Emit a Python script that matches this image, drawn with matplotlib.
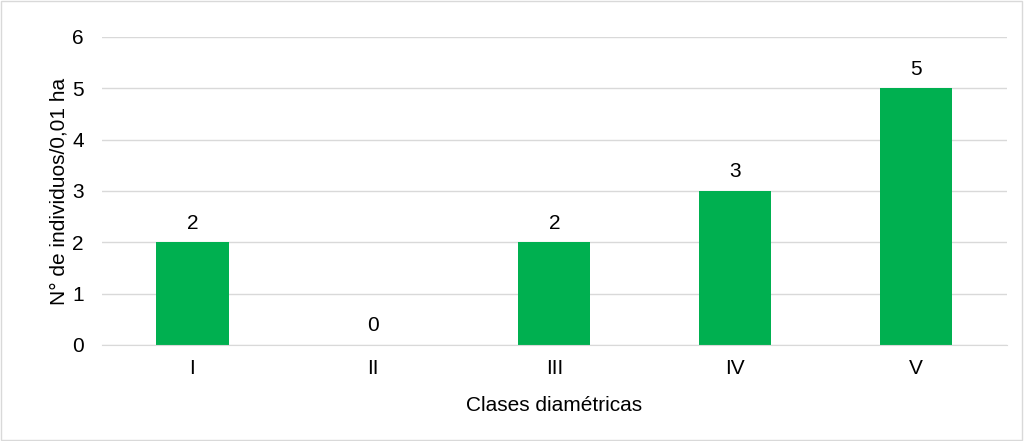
import matplotlib.pyplot as plt
from matplotlib.patches import Rectangle

# Datos
clases = ['I', 'II', 'III', 'IV', 'V']
individuos = [2, 0, 2, 3, 5]

plt.rcParams['font.family'] = ['Liberation Sans', 'DejaVu Sans']
fs = 15

fig = plt.figure(figsize=(10.24, 4.41), dpi=100)
ax = fig.add_axes([0.0996, 0.2177, 0.8834, 0.6984])

x = range(len(clases))
bars = ax.bar(x, individuos, width=0.4, color='#00B050', zorder=3)

for xi, v in zip(x, individuos):
    ax.annotate(str(v), (xi, v), xytext=(0, 7), textcoords='offset points',
                ha='center', va='bottom', fontsize=fs, color='#000000')

ax.set_xlim(-0.5, len(clases) - 0.5)
ax.set_ylim(0, 6)
ax.set_yticks(range(0, 7))
ax.set_xticks(list(x))
ax.set_xticklabels(clases)
ax.tick_params(axis='both', length=0, labelsize=fs, colors='#000000')
ax.tick_params(axis='y', pad=13)
ax.tick_params(axis='x', pad=10)

ax.grid(axis='y', color='#D9D9D9', linewidth=1, zorder=0)
for s in ['top', 'right', 'left']:
    ax.spines[s].set_visible(False)
ax.spines['bottom'].set_color('#D9D9D9')
ax.spines['bottom'].set_zorder(4)

ax.set_xlabel('Clases diamétricas', fontsize=fs, labelpad=13)
ax.set_ylabel('N° de individuos/0,01 ha', fontsize=fs, labelpad=3)

# borde del gráfico
fig.patches.append(Rectangle((0.001, 0.002), 0.997, 0.995, transform=fig.transFigure,
                             fill=False, edgecolor='#D9D9D9', linewidth=1))

fig.savefig('out.png', dpi=100)
